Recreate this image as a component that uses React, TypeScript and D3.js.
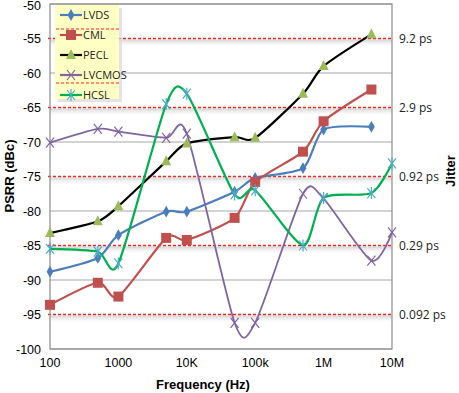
import React, { useEffect, useRef } from "react";
import * as d3 from "d3";

const freqs = [100, 500, 1000, 5000, 10000, 50000, 100000, 500000, 1000000, 5000000, 10000000];
const lvds = [-88.8, -86.8, -83.5, -80.1, -80.1, -77.2, -75.2, -73.8, -68.2, -67.8, null];
const cml = [-93.6, -90.4, -92.4, -83.9, -84.2, -81.0, -75.8, -71.4, -67.0, -62.4, null];
const pecl = [-83.2, -81.5, -79.3, -72.8, -70.2, -69.3, -69.4, -63.0, -59.0, -54.4, null];
const lvcmos = [-70.1, -68.1, -68.5, -69.4, -68.8, -96.2, -96.2, -77.5, -78.2, -87.2, -83.1];
const hcsl = [-85.5, -85.9, -87.6, -64.5, -63.0, -77.6, -77.0, -85.0, -78.1, -77.4, -73.1];

const leftTicks = [-50, -55, -60, -65, -70, -75, -80, -85, -90, -95, -100];
const jitterLevels = [-55, -65, -75, -85, -95];
const jitterLabels = ["9.2 ps", "2.9 ps", "0.92 ps", "0.29 ps", "0.092 ps"];
const xTicks = [100, 1000, 10000, 100000, 1000000, 10000000];
const xTickLabels = ["100", "1000", "10K", "100k", "1M", "10M"];

const series = [
  { name: "LVDS", values: lvds, line: "#4a7ebb", marker: "diamond", mColor: "#4a7ebb" },
  { name: "CML", values: cml, line: "#c0504d", marker: "square", mColor: "#c0504d" },
  { name: "PECL", values: pecl, line: "#000000", marker: "triangle", mColor: "#9bbb59" },
  { name: "LVCMOS", values: lvcmos, line: "#8064a2", marker: "x", mColor: "#8064a2" },
  { name: "HCSL", values: hcsl, line: "#00b050", marker: "star", mColor: "#4bacc6" },
];

const W = 459, H = 393;
const margin = { left: 50, right: 67, top: 4, bottom: 44 };
const AXIS_FONT = "'Liberation Sans', Arial, sans-serif";

function drawMarker(g: any, kind: string, x: number, y: number, color: string) {
  if (kind === "diamond") {
    g.append("path").attr("d", d3.symbol(d3.symbolDiamond, 40)()).attr("transform", `translate(${x},${y})`).attr("fill", color);
  } else if (kind === "square") {
    g.append("rect").attr("x", x - 5).attr("y", y - 5).attr("width", 10).attr("height", 10).attr("fill", color);
  } else if (kind === "triangle") {
    g.append("path").attr("d", `M${x},${y - 6}L${x + 5},${y + 4}L${x - 5},${y + 4}Z`).attr("fill", color);
  } else if (kind === "x") {
    g.append("path").attr("d", `M${x - 4},${y - 5}L${x + 4},${y + 5}M${x + 4},${y - 5}L${x - 4},${y + 5}`)
      .attr("stroke", color).attr("stroke-width", 1.2).attr("fill", "none");
  } else {
    g.append("path").attr("d", `M${x - 4},${y - 5}L${x + 4},${y + 5}M${x + 4},${y - 5}L${x - 4},${y + 5}M${x},${y - 6}L${x},${y + 6}`)
      .attr("stroke", color).attr("stroke-width", 1.2).attr("fill", "none");
  }
}

export default function App() {
  const ref = useRef<SVGSVGElement>(null);

  useEffect(() => {
    const svg = d3.select(ref.current);
    svg.selectAll("*").remove();

    const x = d3.scaleLog().domain([100, 10000000]).range([margin.left, W - margin.right]);
    const y = d3.scaleLinear().domain([-100, -50]).range([H - margin.bottom, margin.top]);

    const defs = svg.append("defs");
    const grad = defs.append("linearGradient").attr("id", "shadow").attr("x1", 0).attr("x2", 0).attr("y1", 0).attr("y2", 1);
    grad.append("stop").attr("offset", "0%").attr("stop-color", "#c8c8c8").attr("stop-opacity", 0.8);
    grad.append("stop").attr("offset", "100%").attr("stop-color", "#ffffff").attr("stop-opacity", 0);

    // gridlines
    svg.append("g").selectAll("line").data(leftTicks.filter(t => t % 10 === 0)).enter().append("line")
      .attr("x1", x(100)).attr("x2", x(10000000)).attr("y1", d => y(d)).attr("y2", d => y(d))
      .attr("stroke", "#a6a6a6").attr("stroke-width", 1);

    // jitter reference lines with shadow
    const jl = svg.append("g");
    jitterLevels.forEach((lv, i) => {
      jl.append("rect").attr("x", x(100)).attr("y", y(lv) + 1).attr("width", x(10000000) - x(100)).attr("height", 8)
        .attr("fill", "url(#shadow)");
      jl.append("line").attr("x1", x(100) - 2).attr("x2", x(10000000)).attr("y1", y(lv)).attr("y2", y(lv))
        .attr("stroke", "#ff2020").attr("stroke-width", 1.5).attr("stroke-dasharray", "3,2");
      jl.append("text").attr("x", 399).attr("y", y(lv) + 4).attr("font-size", 12)
        .attr("font-family", "'Open Sans', sans-serif").attr("fill", "#222").text(jitterLabels[i]);
    });

    // plot border
    svg.append("rect").attr("x", x(100)).attr("y", y(-50)).attr("width", x(10000000) - x(100)).attr("height", y(-100) - y(-50))
      .attr("fill", "none").attr("stroke", "#8c8c8c").attr("stroke-width", 1.2);

    // axis labels
    svg.append("g").selectAll("text").data(leftTicks).enter().append("text")
      .attr("x", 41).attr("y", d => Math.max(y(d) + 4.5, 10)).attr("text-anchor", "end")
      .attr("font-size", 12.5).attr("font-family", AXIS_FONT).text(d => d);

    svg.append("g").selectAll("text").data(xTicks).enter().append("text")
      .attr("x", d => x(d)).attr("y", 367).attr("text-anchor", "middle")
      .attr("font-size", 12.5).attr("font-family", AXIS_FONT).text((d, i) => xTickLabels[i]);

    svg.append("text").attr("x", 203).attr("y", 389).attr("text-anchor", "middle").attr("font-weight", "bold")
      .attr("font-size", 13).attr("font-family", AXIS_FONT).text("Frequency (Hz)");
    svg.append("text").attr("transform", `translate(14,176) rotate(-90)`).attr("text-anchor", "middle").attr("font-weight", "bold")
      .attr("font-size", 13).attr("font-family", AXIS_FONT).text("PSRR (dBc)");
    svg.append("text").attr("transform", `translate(455,171) rotate(-90)`).attr("text-anchor", "middle").attr("font-weight", "bold")
      .attr("font-size", 13).attr("font-family", AXIS_FONT).text("Jitter");

    // series
    const line = d3.line<any>().x(d => x(d[0])).y(d => y(d[1])).curve(d3.curveCardinal.tension(0.25));
    series.forEach(s => {
      const pts = freqs.map((f, i) => [f, s.values[i]]).filter(p => p[1] != null);
      svg.append("path").datum(pts).attr("d", line).attr("fill", "none").attr("stroke", s.line)
        .attr("stroke-width", s.name === "LVCMOS" ? 1.8 : 2.2);
    });
    series.forEach(s => {
      const g = svg.append("g");
      freqs.forEach((f, i) => {
        const v = s.values[i];
        if (v != null) drawMarker(g, s.marker, x(f), y(v), s.mColor);
      });
    });

    // legend
    const lg = svg.append("g");
    lg.append("rect").attr("x", 58).attr("y", 8).attr("width", 64).attr("height", 94).attr("fill", "#d9d9d9").attr("opacity", 0.7);
    lg.append("rect").attr("x", 55).attr("y", 5).attr("width", 64).attr("height", 94).attr("fill", "#ffffc4");
    [29, 83].forEach(yy => {
      lg.append("line").attr("x1", 56).attr("x2", 119).attr("y1", yy).attr("y2", yy)
        .attr("stroke", "#ff2020").attr("stroke-width", 1.2).attr("stroke-dasharray", "3,2");
    });
    series.forEach((s, i) => {
      const yy = 15 + i * 20;
      lg.append("line").attr("x1", 60).attr("x2", 82).attr("y1", yy).attr("y2", yy).attr("stroke", s.line).attr("stroke-width", 2.2);
      drawMarker(lg, s.marker, 71, yy, s.mColor);
      lg.append("text").attr("x", 83).attr("y", yy + 4).attr("font-size", 11)
        .attr("font-family", "'Open Sans', sans-serif").attr("fill", "#222").text(s.name);
    });
  }, []);

  return <svg ref={ref} width={W} height={H} style={{ position: "absolute", left: 0, top: 0, background: "#fff" }} />;
}
